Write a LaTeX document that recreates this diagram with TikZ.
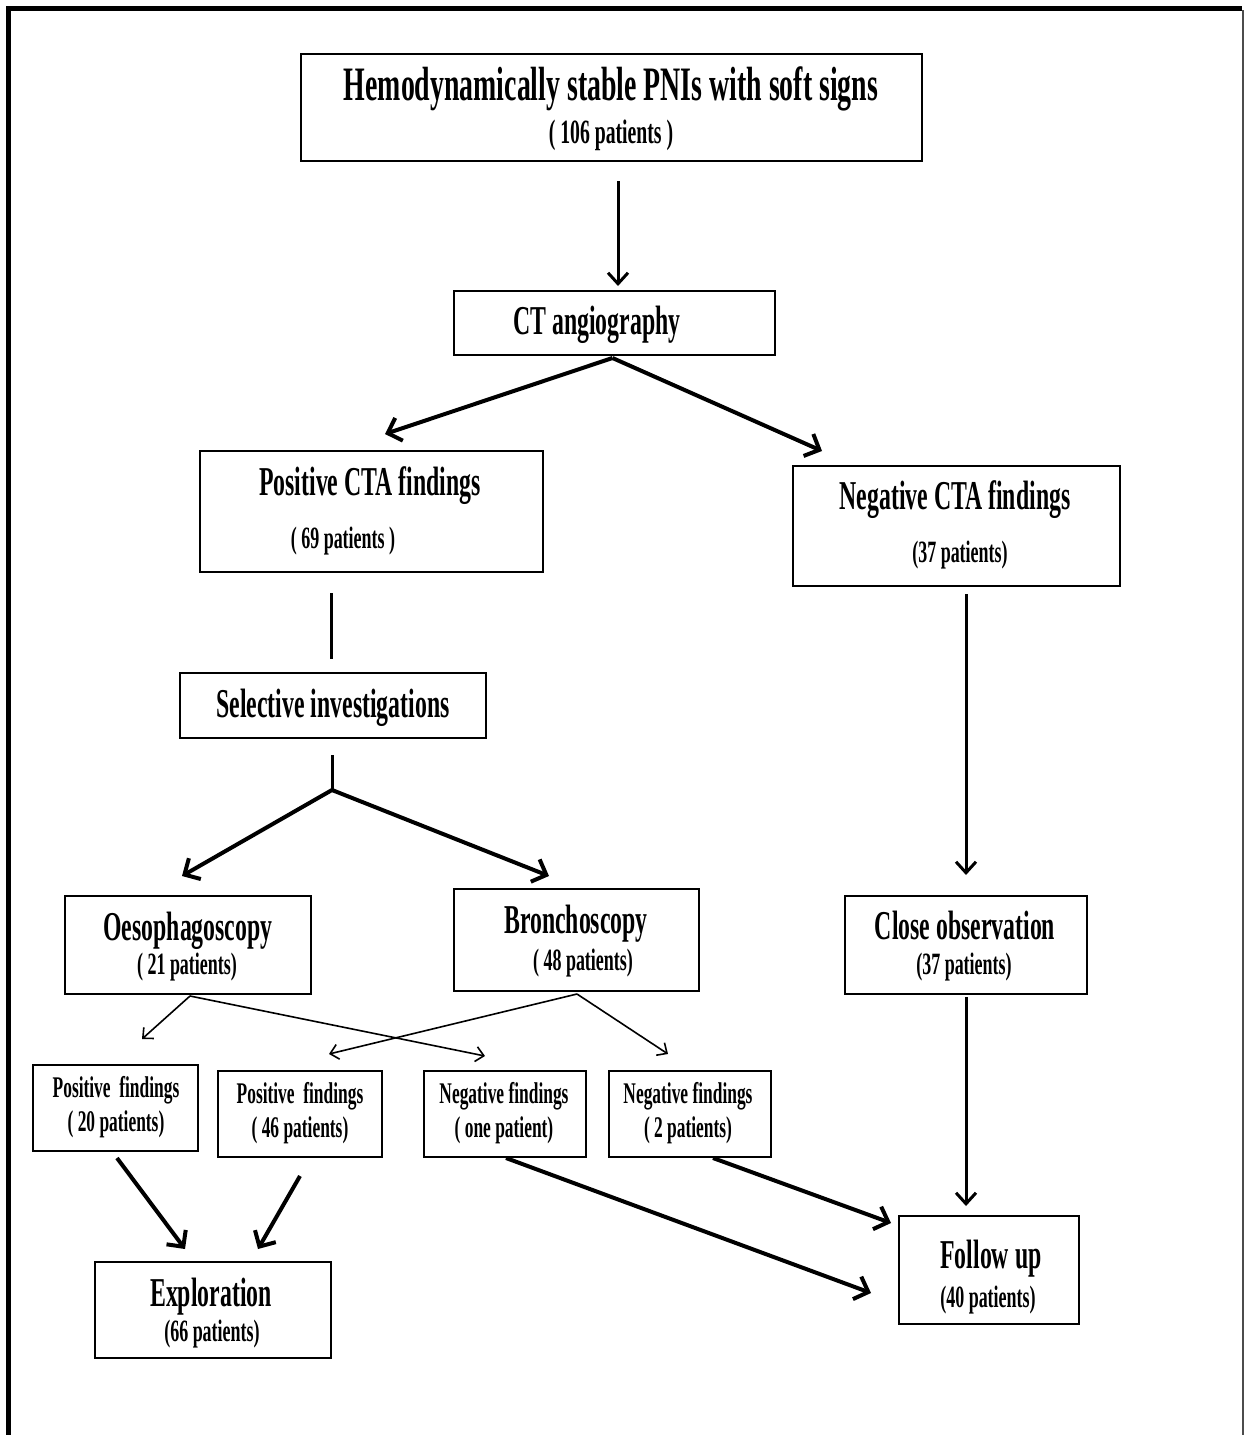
\documentclass[tikz,border=0pt]{standalone}
\usepackage{fontspec}
\setmainfont{Liberation Serif}[FakeStretch=0.58]
\usetikzlibrary{arrows.meta,calc}
\tikzset{
  box/.style={draw, line width=2pt, inner sep=0pt},
  ttl/.style={font=\bfseries\fontsize{48}{48}\selectfont, anchor=mid, inner sep=0pt, yshift=-10pt},
  big/.style={font=\bfseries\fontsize{41}{41}\selectfont, anchor=mid, inner sep=0pt, yshift=-9pt},
  sml/.style={font=\bfseries\fontsize{31}{31}\selectfont, anchor=mid, inner sep=0pt, yshift=-7pt},
  subt/.style={font=\bfseries\fontsize{34}{34}\selectfont, anchor=mid, inner sep=0pt, yshift=-7pt},
  tiny/.style={font=\bfseries\fontsize{30}{30}\selectfont, anchor=mid, inner sep=0pt, yshift=-7pt},
  varr/.style={line width=3pt, -{Straight Barb[length=11pt,width=20pt]}},
  tarr/.style={line width=4pt, -{Straight Barb[length=12pt,width=24pt]}},
  narr/.style={line width=1.6pt, -{Straight Barb[length=8pt,width=15pt]}},
  plain/.style={line width=3pt}
}
\begin{document}
\begin{tikzpicture}[x=1pt,y=-1pt]
\useasboundingbox (0,0) rectangle (1245,1435);
% frame
\draw[line width=5pt] (8,1435) -- (8,8) -- (1242,8);
\draw[line width=2pt, black!70] (1243,10) -- (1243,1435);

% boxes
\node[box, minimum width=621, minimum height=107] (top) at (611.5,107.5) {};
\node[box, minimum width=321, minimum height=64] (ct) at (614.5,323) {};
\node[box, minimum width=343, minimum height=121] (poscta) at (371.5,511.5) {};
\node[box, minimum width=327, minimum height=120] (negcta) at (956.5,526) {};
\node[box, minimum width=306, minimum height=65] (sel) at (333,705.5) {};
\node[box, minimum width=246, minimum height=98] (oeso) at (188,945) {};
\node[box, minimum width=245, minimum height=102] (bron) at (576.5,940) {};
\node[box, minimum width=242, minimum height=98] (close) at (966,945) {};
\node[box, minimum width=165, minimum height=86] (pos20) at (115.5,1108) {};
\node[box, minimum width=164, minimum height=86] (pos46) at (300,1114) {};
\node[box, minimum width=162, minimum height=86] (negone) at (505,1114) {};
\node[box, minimum width=162, minimum height=86] (neg2) at (690,1114) {};
\node[box, minimum width=236, minimum height=96] (expl) at (213,1310) {};
\node[box, minimum width=180, minimum height=108] (follow) at (989,1270) {};

% texts
\node[ttl] (t1) at (611,88) {Hemodynamically stable PNIs with soft signs};
\node[subt] (t2) at (611,134) {( 106 patients )};
\node[big] (ctt) at (597,323) {CT angiography};
\node[big] (pc1) at (370,484) {Positive CTA findings};
\node[sml] (pc2) at (343,539) {( 69 patients )};
\node[big] (nc1) at (955,498) {Negative CTA findings};
\node[sml] (nc2) at (960,553) {(37 patients)};
\node[big] (selt) at (333,706) {Selective investigations};
\node[big] (oe1) at (188,929) {Oesophagoscopy};
\node[sml] (oe2) at (187,965) {( 21 patients)};
\node[big] (br1) at (576,922) {Bronchoscopy};
\node[sml] (br2) at (583,961) {( 48 patients)};
\node[big] (co1) at (965,928) {Close observation};
\node[sml] (co2) at (964,965) {(37 patients)};
\node[tiny] (p20a) at (116,1088) {Positive\ \ findings};
\node[tiny] (p20b) at (116,1122) {( 20 patients)};
\node[tiny] (p46a) at (300,1094) {Positive\ \ findings};
\node[tiny] (p46b) at (300,1128) {( 46 patients)};
\node[tiny] (n1a) at (504,1094) {Negative findings};
\node[tiny] (n1b) at (504,1128) {( one patient)};
\node[tiny] (n2a) at (688,1094) {Negative findings};
\node[tiny] (n2b) at (688,1128) {( 2 patients)};
\node[big] (ex1) at (211,1295) {Exploration};
\node[sml] (ex2) at (212,1332) {(66 patients)};
\node[big] (fu1) at (991,1257) {Follow up};
\node[sml] (fu2) at (988,1298) {(40 patients)};

% connectors
\draw[varr] ($(top.south)+(6.5,19)$) -- ($(ct.north)+(3.5,-4)$);
\draw[tarr] ($(ct.south)+(-2,2)$) -- ($(poscta.north)+(13.5,-16)$);
\draw[tarr] ($(ct.south)+(-2,2)$) -- ($(negcta.north)+(-134.5,-14)$);
\draw[plain] ($(poscta.south)+(-40.5,20)$) -- ($(sel.north)+(-2,-13)$);
\coordinate (fork) at (332,790);
\draw[plain] ($(sel.south)+(-1,16)$) -- (fork);
\draw[tarr] (fork) -- ($(oeso.north)+(-6,-19)$);
\draw[tarr] (fork) -- ($(bron.north)+(-27.5,-12)$);
\draw[varr] ($(negcta.south)+(9.5,7)$) -- ($(close.north)+(0,-20)$);
\draw[varr] ($(close.south)+(0,2)$) -- ($(follow.north)+(-23,-9)$);
\draw[narr] ($(oeso.south)+(2,1)$) -- ($(pos20.north)+(26.5,-25)$);
\draw[narr] ($(oeso.south)+(2,1)$) -- ($(negone.north)+(-20,-14)$);
\draw[narr] ($(bron.south)+(0.5,2)$) -- ($(pos46.north)+(29,-16)$);
\draw[narr] ($(bron.south)+(0.5,2)$) -- ($(neg2.north)+(-22,-16)$);
\draw[tarr] ($(pos20.south)+(1.5,6)$) -- ($(expl.north)+(-28,-12)$);
\draw[tarr] ($(pos46.south)+(0,18)$) -- ($(expl.north)+(45,-12)$);
\draw[tarr] ($(negone.south)+(1,0)$) -- ($(follow.west)+(-27,23)$);
\draw[tarr] ($(neg2.south)+(23,0)$) -- ($(follow.west)+(-7,-47)$);
\end{tikzpicture}
\end{document}
